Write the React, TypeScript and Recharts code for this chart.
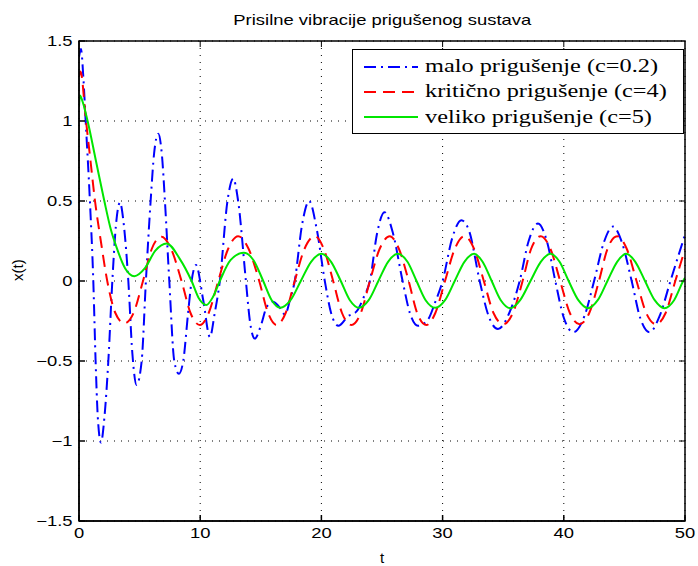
import React from 'react';
import { LineChart, Line, XAxis, YAxis, CartesianGrid, Legend, ReferenceLine } from 'recharts';

// ─── Data ──────────────────────────────────────────────────────────────────────
const X_TICKS = [0, 10, 20, 30, 40, 50];
const Y_TICKS = [-1.5, -1, -0.5, 0, 0.5, 1, 1.5];

// c = 0.2 (blue, dash-dot)
const blueT = [0, 0.16, 0.36, 0.55, 0.9, 1.18, 1.37, 1.55, 1.81, 2.1, 2.42, 2.75, 3.05, 3.38, 3.7, 4.07, 4.4, 4.75, 5.17, 5.52, 5.91, 6.2, 6.54, 6.85, 7.09, 7.45, 7.86, 8.24, 8.6, 9.0, 9.29, 9.65, 10.25, 10.8, 11.2, 11.62, 12.25, 12.72, 13.13, 13.77, 14.1, 14.5, 15.0, 15.5, 16.0, 16.5, 17.0, 17.4, 17.8, 18.4, 18.99, 19.6, 20.28, 20.8, 21.4, 22.2, 22.9, 23.5, 24.0, 24.6, 25.2, 25.9, 26.7, 27.3, 27.97, 28.8, 29.4, 30.0, 30.8, 31.55, 32.2, 33.06, 33.8, 34.57, 35.5, 36.36, 37.1, 37.87, 38.6, 39.3, 40.0, 40.8, 41.7, 42.5, 43.3, 44.05, 44.8, 45.6, 46.3, 47.07, 47.9, 48.8, 50];
const blueX = [1.4, 1.45, 1.27, 1.0, 0.5, 0, -0.5, -0.85, -1.01, -0.85, -0.5, 0, 0.35, 0.49, 0.35, 0, -0.45, -0.65, -0.5, 0, 0.5, 0.8, 0.92, 0.78, 0.5, 0, -0.5, -0.58, -0.5, -0.2, 0, 0.1, -0.12, -0.35, -0.2, 0, 0.5, 0.64, 0.5, 0, -0.25, -0.36, -0.28, -0.16, -0.13, -0.16, -0.21, -0.12, 0, 0.35, 0.5, 0.33, 0, -0.2, -0.28, -0.22, -0.19, -0.1, 0, 0.3, 0.43, 0.3, 0, -0.2, -0.28, -0.24, -0.13, 0, 0.27, 0.38, 0.31, 0, -0.22, -0.3, -0.2, 0, 0.25, 0.36, 0.25, 0, -0.23, -0.32, -0.22, 0, 0.24, 0.34, 0.24, 0, -0.23, -0.32, -0.22, 0, 0.29];

// c = 4 (red, dashed)
const redT = [0, 0.12, 0.58, 0.95, 1.32, 1.8, 2.33, 3.0, 3.74, 4.5, 5.28, 6.0, 6.81, 7.6, 8.46, 9.2, 9.97, 10.7, 11.49, 12.3, 13.13, 14.0, 14.87, 15.6, 16.3, 17.05, 17.8, 18.6, 19.46, 20.2, 20.97, 21.7, 22.48, 23.25, 24.0, 24.8, 25.64, 26.4, 27.2, 27.9, 28.66, 29.4, 30.2, 31.0, 31.8, 32.6, 33.4, 34.2, 35.0, 35.8, 36.6, 37.3, 38.1, 38.9, 39.7, 40.5, 41.3, 42.1, 42.9, 43.6, 44.4, 45.2, 46.0, 46.8, 47.6, 48.4, 49.2, 50];
const redX = [1.28, 1.31, 1.0, 0.75, 0.5, 0.25, 0, -0.2, -0.265, -0.2, 0, 0.2, 0.277, 0.2, 0, -0.2, -0.275, -0.2, 0, 0.2, 0.28, 0.2, 0, -0.2, -0.275, -0.2, 0, 0.2, 0.28, 0.2, 0, -0.2, -0.275, -0.2, 0, 0.2, 0.28, 0.2, 0, -0.2, -0.275, -0.2, 0, 0.2, 0.28, 0.2, 0, -0.2, -0.27, -0.2, 0, 0.2, 0.28, 0.2, 0, -0.2, -0.27, -0.2, 0, 0.2, 0.28, 0.2, 0, -0.2, -0.27, -0.2, 0, 0.2];

// c = 5 (green, solid)
const greenT = [0, 0.08, 0.3, 0.71, 1.4, 2.09, 2.6, 3.1, 3.8, 4.56, 5.44, 6.3, 7.23, 8.3, 9.29, 9.9, 10.5, 11.05, 11.62, 12.5, 13.6, 14.4, 15.2, 15.9, 16.6, 17.45, 18.3, 19.15, 20.0, 20.8, 21.6, 22.35, 23.1, 23.9, 24.7, 25.5, 26.3, 27.1, 27.85, 28.6, 29.4, 30.2, 31.0, 31.8, 32.6, 33.3, 34.05, 34.8, 35.6, 36.4, 37.25, 38.1, 38.9, 39.65, 40.4, 41.2, 42.0, 42.8, 43.6, 44.4, 45.15, 45.9, 46.7, 47.5, 48.3, 49.1, 49.85, 50];
const greenX = [1.09, 1.16, 1.12, 1.0, 0.75, 0.5, 0.33, 0.21, 0.08, 0.03, 0.08, 0.19, 0.235, 0.14, 0, -0.11, -0.15, -0.1, 0, 0.13, 0.177, 0.13, 0, -0.12, -0.167, -0.12, 0, 0.12, 0.17, 0.12, 0, -0.12, -0.167, -0.12, 0, 0.12, 0.17, 0.12, 0, -0.12, -0.167, -0.12, 0, 0.12, 0.17, 0.12, 0, -0.12, -0.17, -0.12, 0, 0.12, 0.17, 0.12, 0, -0.12, -0.17, -0.12, 0, 0.12, 0.17, 0.12, 0, -0.12, -0.17, -0.12, 0, 0.02];

const SERIES = [
    { key: 'malo', label: 'malo prigušenje (c=0.2)', color: '#0000ff', dash: '12 5 2 5', t: blueT, x: blueX },
    { key: 'kriticno', label: 'kritično prigušenje (c=4)', color: '#ff0000', dash: '12 7', t: redT, x: redX },
    { key: 'veliko', label: 'veliko prigušenje (c=5)', color: '#00e600', dash: undefined, t: greenT, x: greenX },
];

const toRows = (t: number[], x: number[]) => t.map((tv, i) => ({ t: tv, x: x[i] }));

const SANS = '"Liberation Sans", Arial, sans-serif';
const SERIF = '"Liberation Serif", "DejaVu Serif", serif';
// the reference figure is stretched sideways, so its text is wider than tall
const STRETCH = 1.27;
const X_MAX = X_TICKS[X_TICKS.length - 1];
const Y_MAX = Y_TICKS[Y_TICKS.length - 1];

// plot box in pixels (margins + axis sizes below)
const W = 698, H = 566;
const M = { top: 41, right: 13, bottom: 0, left: 0 };
const Y_AXIS_W = 79, X_AXIS_H = 45;

const fmtY = (v: number) => (v < 0 ? '\u2212' + String(-v) : String(v));

const XTick = ({ x, y, payload }: any) => (
    <text x={x} y={y} dy="0.71em" textAnchor="middle" fill="#000" fontSize={14.5} fontFamily={SANS}
        style={{ transformBox: 'fill-box', transformOrigin: 'center', transform: `scaleX(${STRETCH})` }}>
        {payload.value}
    </text>
);

const YTick = ({ x, y, payload }: any) => (
    <text x={x} y={y} dy="0.355em" textAnchor="end" fill="#000" fontSize={14.5} fontFamily={SANS}
        style={{ transformBox: 'fill-box', transformOrigin: 'right center', transform: `scaleX(${STRETCH})` }}>
        {fmtY(payload.value)}
    </text>
);

// ─── Legend box (MATLAB style) ─────────────────────────────────────────────────
const LegendBox = () => (
    <div style={{ border: '1.5px solid #000', background: '#fff', padding: '4px 0 0 10px', boxSizing: 'border-box', width: 332, height: 85 }}>
        {SERIES.map(s => (
            <div key={s.key} style={{ display: 'flex', alignItems: 'center', height: 25.3 }}>
                <svg width={56} height={10} style={{ marginRight: 6, flex: 'none' }}>
                    <line x1={1} y1={5} x2={55} y2={5} stroke={s.color} strokeWidth={2} strokeDasharray={s.dash} />
                </svg>
                <span style={{ fontFamily: SERIF, fontSize: 18, color: '#000', whiteSpace: 'nowrap', display: 'inline-block', transformOrigin: 'left center', transform: 'scaleX(1.35)' }}>{s.label}</span>
            </div>
        ))}
    </div>
);

export default function App() {
    const px = M.left + Y_AXIS_W;
    const plotW = W - M.left - M.right - Y_AXIS_W;
    const plotH = H - M.top - M.bottom - X_AXIS_H;
    return (
        <div style={{ position: 'absolute', left: 0, top: 0, width: W, height: H, background: '#fff' }}>
            <div style={{ position: 'absolute', left: 0, top: 12, width: 764, textAlign: 'center', fontFamily: SANS, fontSize: 14.5, lineHeight: '16px', color: '#000' }}>
                <span style={{ display: 'inline-block', transform: `scaleX(${STRETCH})` }}>Prisilne vibracije prigušenog sustava</span>
            </div>
            <LineChart width={W} height={H} margin={M}>
                <CartesianGrid stroke="#000" strokeDasharray="1 6" />
                <XAxis
                    dataKey="t" type="number" domain={[0, 50]} ticks={X_TICKS} allowDataOverflow
                    height={X_AXIS_H} stroke="#000" strokeWidth={1.5} tickSize={-6} tickMargin={13} tick={<XTick />}
                    label={{ value: 't', position: 'insideBottom', offset: 3, fill: '#000', fontSize: 15, fontFamily: SANS }}
                />
                <YAxis
                    type="number" domain={[-1.5, 1.5]} ticks={Y_TICKS} allowDataOverflow
                    width={Y_AXIS_W} stroke="#000" strokeWidth={1.5} tickSize={-6} tickMargin={12.5} tick={<YTick />}
                    label={{ value: 'x(t)', angle: -90, position: 'insideLeft', offset: 18, fill: '#000', fontSize: 15, fontFamily: SANS }}
                />
                <Legend
                    layout="horizontal" verticalAlign="middle" align="center"
                    wrapperStyle={{ position: 'absolute', left: 352, top: 49, width: 332, height: 85 }}
                    content={() => <LegendBox />}
                />
                {SERIES.map(s => (
                    <Line
                        key={s.key} data={toRows(s.t, s.x)} dataKey="x" name={s.label}
                        type="monotone" stroke={s.color} strokeWidth={2} strokeDasharray={s.dash}
                        dot={false} activeDot={false} isAnimationActive={false}
                    />
                ))}
                {/* inward tick marks on the top and right edges */}
                {X_TICKS.slice(1, -1).map(v => (
                    <ReferenceLine key={'tx' + v} ifOverflow="visible" segment={[{ x: v, y: Y_MAX }, { x: v, y: Y_MAX - 0.0375 }]} stroke="#000" strokeWidth={1} />
                ))}
                {Y_TICKS.slice(1, -1).map(v => (
                    <ReferenceLine key={'ty' + v} ifOverflow="visible" segment={[{ x: X_MAX, y: v }, { x: X_MAX - 0.5, y: v }]} stroke="#000" strokeWidth={1} />
                ))}
            </LineChart>
            {/* axes box outline, drawn over the chart */}
            <svg width={W} height={H} style={{ position: 'absolute', left: 0, top: 0, pointerEvents: 'none' }}>
                <rect x={px} y={M.top} width={plotW} height={plotH} fill="none" stroke="#000" strokeWidth={1.5} />
            </svg>
        </div>
    );
}
